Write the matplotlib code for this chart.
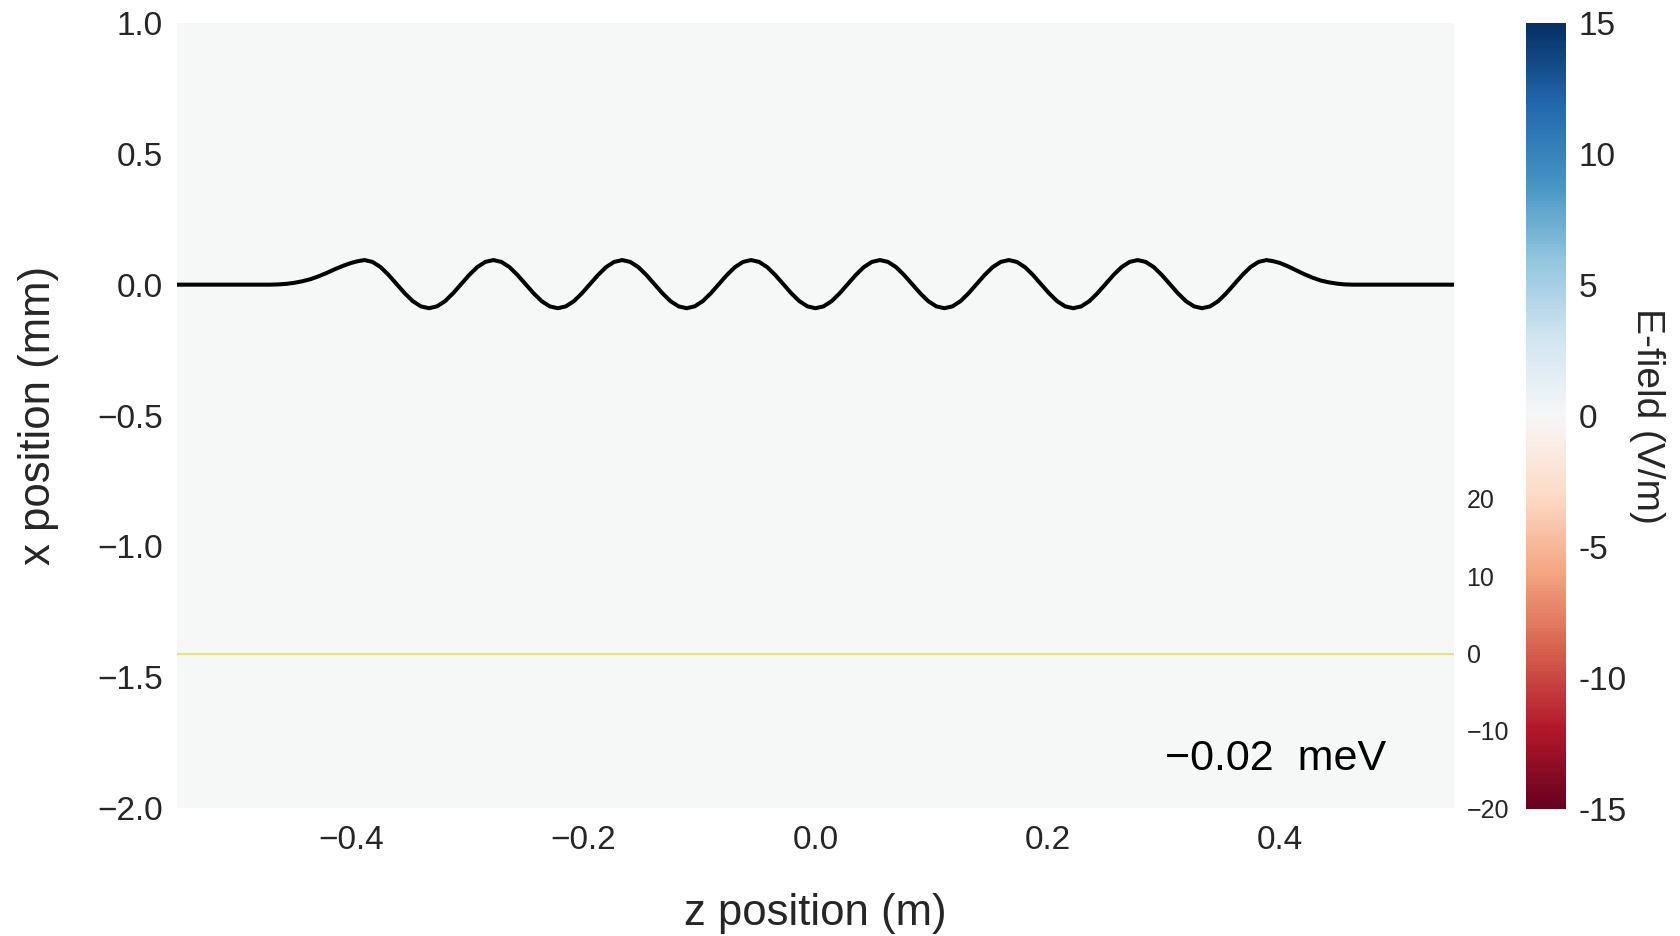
import numpy as np
import matplotlib
matplotlib.use("Agg")
import matplotlib.pyplot as plt
from matplotlib.colors import Normalize
from matplotlib.cm import ScalarMappable

plt.rcParams['font.family'] = ['Liberation Sans', 'DejaVu Sans']
TXT = '#262626'

# ---------------- data ----------------
# E-field map (V/m): essentially zero everywhere at this colour scale
field_z_edges = [-0.55, 0.55]
field_x_edges = [-2.0, 1.0]
field_values = [[0.0]]

# electron trajectory in the undulator (z in m, x in mm)
z_traj = [-0.55, -0.470, -0.463, -0.456, -0.449, -0.442, -0.435, -0.428, -0.421, -0.414, -0.407, -0.400, -0.394,
          -0.3885, -0.3816, -0.3746, -0.3677, -0.3608, -0.3538, -0.3469, -0.3399, -0.3330, -0.3261, -0.3191, -0.3122, -0.3053, -0.2983, -0.2914, -0.2844,
          -0.2775, -0.2706, -0.2636, -0.2567, -0.2498, -0.2428, -0.2359, -0.2289, -0.2220, -0.2151, -0.2081, -0.2012, -0.1943, -0.1873, -0.1804, -0.1734,
          -0.1665, -0.1596, -0.1526, -0.1457, -0.1388, -0.1318, -0.1249, -0.1179, -0.1110, -0.1041, -0.0971, -0.0902, -0.0833, -0.0763, -0.0694, -0.0624,
          -0.0555, -0.0486, -0.0416, -0.0347, -0.0278, -0.0208, -0.0139, -0.0069, 0.0000, 0.0069, 0.0139, 0.0208, 0.0278, 0.0347, 0.0416, 0.0486,
          0.0555, 0.0624, 0.0694, 0.0763, 0.0833, 0.0902, 0.0971, 0.1041, 0.1110, 0.1179, 0.1249, 0.1318, 0.1388, 0.1457, 0.1526, 0.1596,
          0.1665, 0.1734, 0.1804, 0.1873, 0.1943, 0.2012, 0.2081, 0.2151, 0.2220, 0.2289, 0.2359, 0.2428, 0.2498, 0.2567, 0.2636, 0.2706,
          0.2775, 0.2844, 0.2914, 0.2983, 0.3053, 0.3122, 0.3191, 0.3261, 0.3330, 0.3399, 0.3469, 0.3538, 0.3608, 0.3677, 0.3746, 0.3816,
          0.3885, 0.394, 0.400, 0.407, 0.414, 0.421, 0.428, 0.435, 0.442, 0.449, 0.456, 0.463, 0.55]
x_traj = [0.0, 0.0, 0.001, 0.003, 0.007, 0.013, 0.021, 0.032, 0.045, 0.059, 0.072, 0.083, 0.090,
          0.094, 0.087, 0.067, 0.037, 0.002, -0.033, -0.063, -0.083, -0.090, -0.083, -0.063, -0.033, 0.002, 0.037, 0.067, 0.087,
          0.094, 0.087, 0.067, 0.037, 0.002, -0.033, -0.063, -0.083, -0.090, -0.083, -0.063, -0.033, 0.002, 0.037, 0.067, 0.087,
          0.094, 0.087, 0.067, 0.037, 0.002, -0.033, -0.063, -0.083, -0.090, -0.083, -0.063, -0.033, 0.002, 0.037, 0.067, 0.087,
          0.094, 0.087, 0.067, 0.037, 0.002, -0.033, -0.063, -0.083, -0.090, -0.083, -0.063, -0.033, 0.002, 0.037, 0.067, 0.087,
          0.094, 0.087, 0.067, 0.037, 0.002, -0.033, -0.063, -0.083, -0.090, -0.083, -0.063, -0.033, 0.002, 0.037, 0.067, 0.087,
          0.094, 0.087, 0.067, 0.037, 0.002, -0.033, -0.063, -0.083, -0.090, -0.083, -0.063, -0.033, 0.002, 0.037, 0.067, 0.087,
          0.094, 0.087, 0.067, 0.037, 0.002, -0.033, -0.063, -0.083, -0.090, -0.083, -0.063, -0.033, 0.002, 0.037, 0.067, 0.087,
          0.094, 0.090, 0.083, 0.070, 0.055, 0.040, 0.027, 0.016, 0.009, 0.004, 0.001, 0.0, 0.0]

# energy change along z (meV), lower inset
z_energy = [-0.55, 0.55]
energy = [0.0, 0.0]
energy_label = "\u22120.02  meV"

x_ticks = [-0.4, -0.2, 0.0, 0.2, 0.4]
y_ticks = [-2.0, -1.5, -1.0, -0.5, 0.0, 0.5, 1.0]
energy_ticks = [-20, -10, 0, 10, 20]
cbar_ticks = [-15, -10, -5, 0, 5, 10, 15]
cbar_ticklabels = ['-15', '-10', '-5', '0', '5', '10', '15']

# ---------------- figure ----------------
W, H = 1680, 936
fig = plt.figure(figsize=(W / 100, H / 100), dpi=100)

def fx(px):
    return px / W

def fy(py):
    return 1 - py / H

L, R, T, B = 177, 1454, 23, 808
ax = fig.add_axes([fx(L), fy(B), fx(R) - fx(L), fy(T) - fy(B)])
norm = Normalize(vmin=-15, vmax=15)
ax.pcolormesh(field_z_edges, field_x_edges, np.array(field_values), cmap='RdBu', norm=norm)
ax.plot(z_traj, x_traj, color='black', lw=2.9, solid_joinstyle='round',
        solid_capstyle='butt', zorder=3)
ax.set_xlim(-0.55, 0.55)
ax.set_ylim(-2.0, 1.0)
ax.set_xticks(x_ticks)
ax.set_yticks(y_ticks)
for s in ax.spines.values():
    s.set_visible(False)
ax.tick_params(axis='both', length=0, labelsize=24, colors=TXT)
ax.tick_params(axis='x', pad=12)
ax.tick_params(axis='y', pad=10)
ax.set_xlabel('z position (m)', fontsize=31.5, color=TXT)
ax.set_ylabel('x position (mm)', fontsize=31.5, color=TXT)
ax.xaxis.set_label_coords(0.5, -(893 - B) / (B - T))
ax.yaxis.set_label_coords((59 - L) / (R - L), 0.5)
ax.text(0.86, (B - 770) / (B - T), energy_label, transform=ax.transAxes,
        ha='center', va='baseline', fontsize=31, color='black', zorder=4)

# energy inset
ax2 = fig.add_axes([fx(L), fy(B), fx(R) - fx(L), fy(499) - fy(B)])
ax2.patch.set_alpha(0)
ax2.plot(z_energy, energy, color='#ece46e', lw=1.5)
ax2.set_xlim(-0.55, 0.55)
ax2.set_ylim(-20, 20)
ax2.set_yticks(energy_ticks)
ax2.set_xticks([])
ax2.yaxis.tick_right()
for s in ax2.spines.values():
    s.set_visible(False)
ax2.tick_params(axis='y', length=0, labelsize=18, colors=TXT, pad=9)

# colorbar
cax = fig.add_axes([fx(1526), fy(809), fx(1566) - fx(1526), fy(T) - fy(809)])
sm = ScalarMappable(norm=norm, cmap='RdBu')
cb = fig.colorbar(sm, cax=cax)
cb.outline.set_visible(False)
cb.set_ticks(cbar_ticks)
cb.set_ticklabels(cbar_ticklabels)
cax.tick_params(length=0, labelsize=24, colors=TXT, pad=9)
fig.text(fx(1647), fy(416), 'E-field (V/m)', rotation=270, ha='center', va='center',
         fontsize=28, color=TXT)

fig.savefig('out.png', dpi=100)
